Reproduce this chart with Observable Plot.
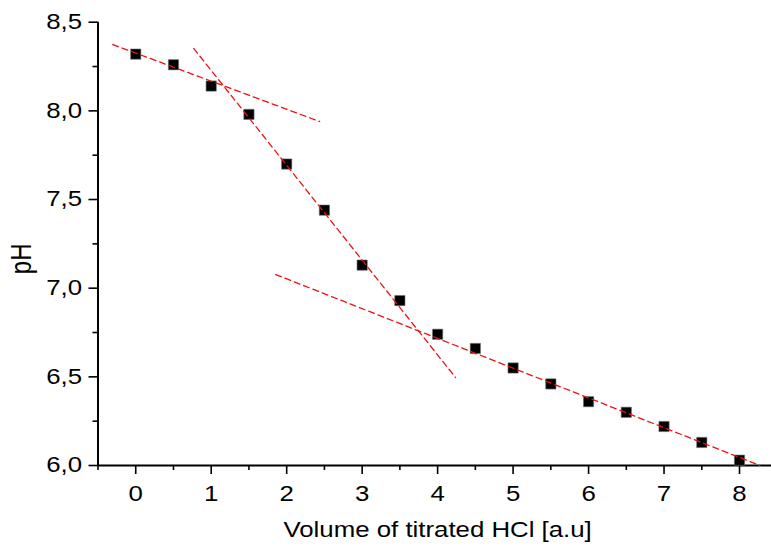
<!DOCTYPE html>
<html>
<head>
<meta charset="utf-8">
<script src="https://cdn.jsdelivr.net/npm/d3@7"></script>
<script src="https://cdn.jsdelivr.net/npm/@observablehq/plot@0.6"></script>
<style>
  body { margin: 0; background: #fff; overflow: hidden; }
  svg { display: block; }
</style>
</head>
<body>
<div id="chart"></div>
<script>
// Titration curve: pH against volume of added HCl
const volume = [0, 0.5, 1, 1.5, 2, 2.5, 3, 3.5, 4, 4.5, 5, 5.5, 6, 6.5, 7, 7.5, 8];
const pH = [8.32, 8.26, 8.14, 7.98, 7.70, 7.44, 7.13, 6.93, 6.74, 6.66, 6.55, 6.46, 6.36, 6.30, 6.22, 6.13, 6.03];

// Linear fits of the three branches (end points in data units)
const fitStartX = [-0.305, 0.768, 1.854];
const fitStartY = [8.374, 8.352, 7.077];
const fitEndX = [2.437, 4.238, 8.27];
const fitEndY = [7.94, 6.496, 6.0];

const xMajorTicks = [0, 1, 2, 3, 4, 5, 6, 7, 8];
const xMinorTicks = [-0.5, 0.5, 1.5, 2.5, 3.5, 4.5, 5.5, 6.5, 7.5, 8.5];
const yMajorTicks = [6.0, 6.5, 7.0, 7.5, 8.0, 8.5];
const yMinorTicks = [6.25, 6.75, 7.25, 7.75, 8.25];

const xTitle = "Volume of titrated HCl [a.u]";
const yTitle = "pH";

const points = volume.map((v, i) => ({volume: v, pH: pH[i]}));
const fits = fitStartX.map((_, i) => [
  {fit: i, volume: fitStartX[i], pH: fitStartY[i]},
  {fit: i, volume: fitEndX[i], pH: fitEndY[i]}
]).flat();

const font = "'Liberation Sans', Arial, sans-serif";
const comma = d => d.toFixed(1).replace(".", ",");
const labelSize = 21.5;

const chart = Plot.plot({
  width: 771,
  height: 548,
  marginLeft: 97.5,
  marginRight: -5.75,
  marginTop: 21.7,
  marginBottom: 83,
  x: {domain: [-0.5, 8.5]},
  y: {domain: [6, 8.5]},
  style: {fontFamily: font, fontSize: labelSize + "px", color: "black", background: "white"},
  marks: [
    Plot.axisX(xMajorTicks, {tickSize: 9, tickPadding: 11, strokeWidth: 1.6, tickFormat: d => String(d), label: null, fontSize: labelSize}),
    Plot.axisX(xMinorTicks, {tickSize: 5, strokeWidth: 1.6, text: null, label: null}),
    Plot.axisY(yMajorTicks, {tickSize: 9, tickPadding: 7, strokeWidth: 1.6, tickFormat: comma, label: null, fontSize: labelSize}),
    Plot.axisY(yMinorTicks, {tickSize: 5, strokeWidth: 1.6, text: null, label: null}),
    Plot.ruleY([6], {stroke: "black", strokeWidth: 2}),
    Plot.ruleX([-0.5], {stroke: "black", strokeWidth: 2}),
    Plot.dot(points, {x: "volume", y: "pH", symbol: "square", r: 5.8, fill: "black", stroke: "#777", strokeWidth: 0.6}),
    Plot.line(fits, {x: "volume", y: "pH", z: "fit", stroke: "#ee1111", strokeWidth: 1.3, strokeDasharray: "6,4"}),
    Plot.text([xTitle], {text: d => d, frameAnchor: "bottom", dy: 56.5, lineAnchor: "top", fontSize: labelSize}),
    Plot.text([yTitle], {text: d => d, frameAnchor: "left", dx: -67, dy: 15, rotate: -90, lineAnchor: "bottom", textAnchor: "middle", fontSize: 24})
  ]
});

document.getElementById("chart").appendChild(chart);

// Labels are set in a horizontally widened face
const glyphStretch = 1.2;
chart.querySelectorAll("text").forEach(t => {
  const tr = t.getAttribute("transform") || "";
  if (tr.includes("rotate")) {
    // rotated label: its local y axis runs along the page's x axis
    t.setAttribute("transform", tr + ` scale(1,${glyphStretch})`);
    return;
  }
  const len = t.getComputedTextLength();
  if (len > 0) {
    t.setAttribute("textLength", len * glyphStretch);
    t.setAttribute("lengthAdjust", "spacingAndGlyphs");
  }
});
</script>
</body>
</html>
